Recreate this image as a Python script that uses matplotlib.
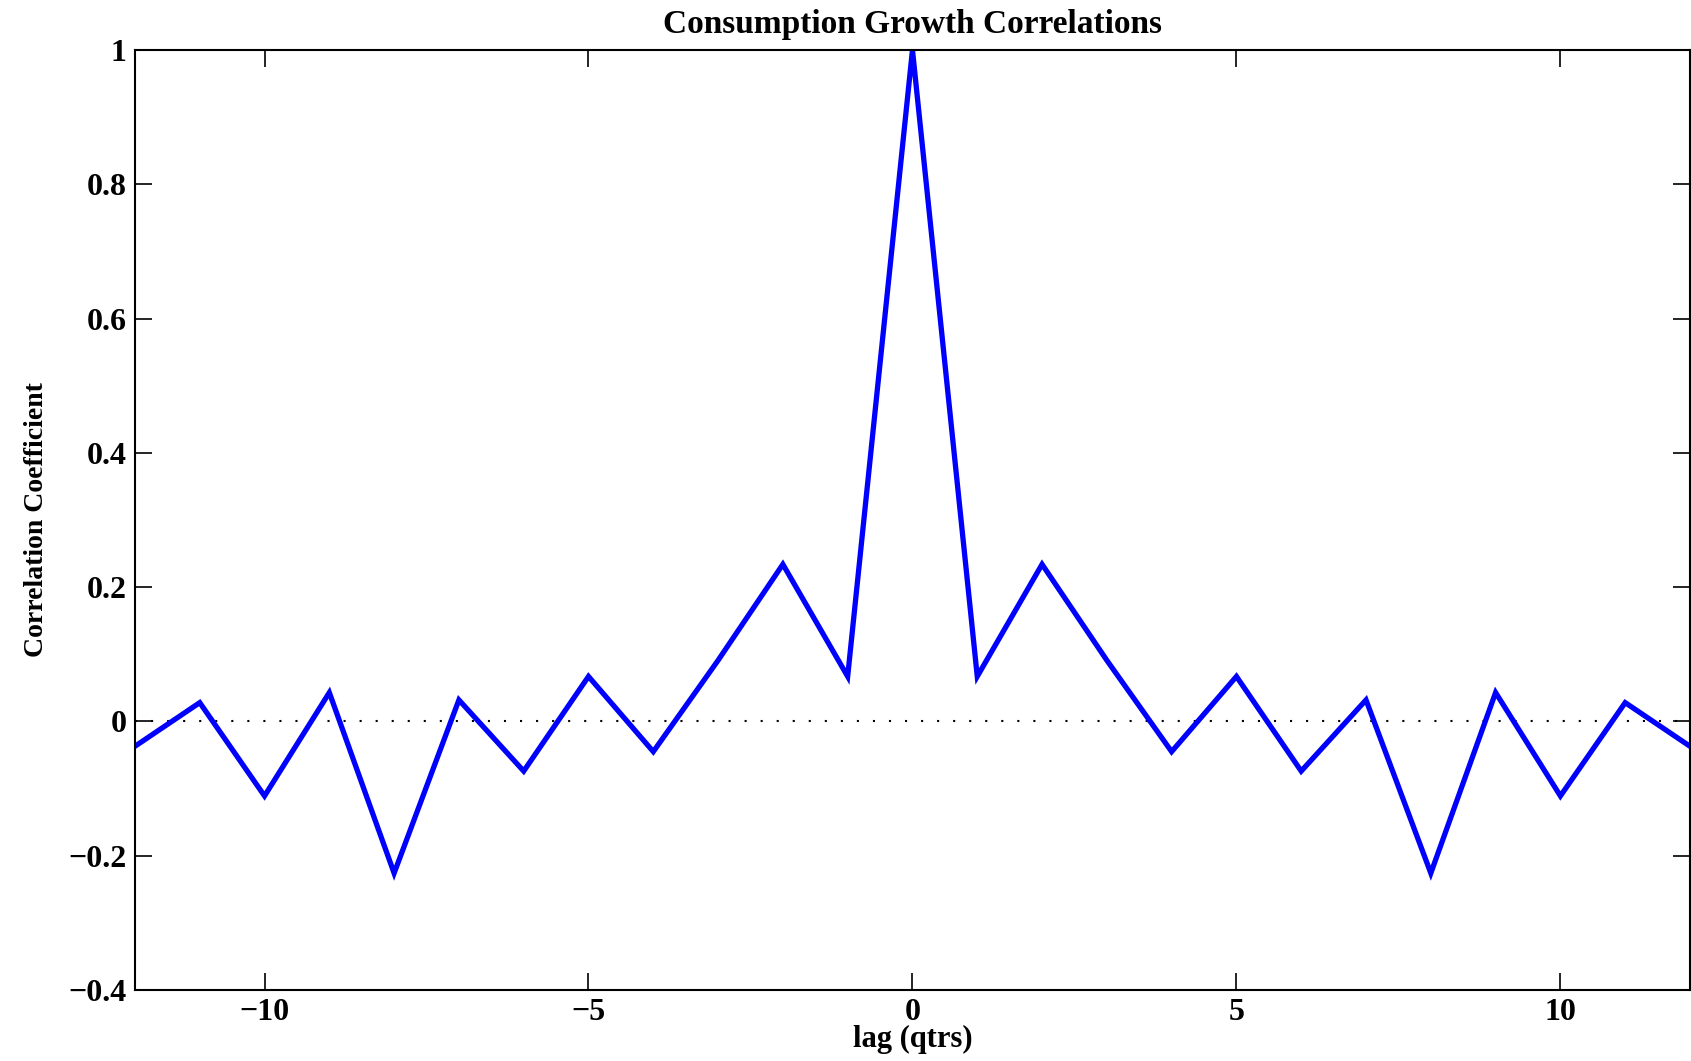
import numpy as np
import matplotlib.pyplot as plt

# Correlation coefficients for lags 0..12 (symmetric around 0)
lags_pos = [0, 1, 2, 3, 4, 5, 6, 7, 8, 9, 10, 11, 12]
corr_pos = [1.0, 0.067, 0.234, 0.091, -0.045, 0.067, -0.074, 0.032, -0.226, 0.043, -0.111, 0.028, -0.037]

lags = np.array([-l for l in lags_pos[:0:-1]] + lags_pos)
corr = np.array(corr_pos[:0:-1] + corr_pos)

xticks = [-10, -5, 0, 5, 10]
yticks = [-0.4, -0.2, 0, 0.2, 0.4, 0.6, 0.8, 1]
ytick_labels = ['\u22120.4', '\u22120.2', '0', '0.2', '0.4', '0.6', '0.8', '1']
xtick_labels = ['\u221210', '\u22125', '0', '5', '10']

plt.rcParams['font.family'] = ['Liberation Serif', 'DejaVu Serif']
plt.rcParams['font.weight'] = 'bold'

fig = plt.figure(figsize=(16.91, 10.61), dpi=100)
ax = fig.add_axes([0.0798, 0.0669, 0.9196, 0.886])

ax.plot([-12, 12], [0, 0], color='black', lw=1.5, linestyle=(0, (1, 6.7)))
ax.plot(lags, corr, color='#0000ff', lw=3.8, solid_joinstyle='miter')

ax.set_xlim(-12, 12)
ax.set_ylim(-0.4, 1)
ax.set_xticks(xticks)
ax.set_xticklabels(xtick_labels)
ax.set_yticks(yticks)
ax.set_yticklabels(ytick_labels)
ax.tick_params(direction='in', length=12, width=1.2, top=True, right=True,
               labelsize=23, pad=6)
for lab in ax.get_xticklabels() + ax.get_yticklabels():
    lab.set_fontweight('bold')
for s in ax.spines.values():
    s.set_linewidth(1.5)

ax.set_title('Consumption Growth Correlations', fontsize=24, fontweight='bold', pad=12)
ax.set_xlabel('lag (qtrs)', fontsize=22, fontweight='bold', labelpad=-2)
ax.set_ylabel('Correlation Coefficient', fontsize=20, fontweight='bold', labelpad=14)

fig.savefig('out.png', dpi=100)
